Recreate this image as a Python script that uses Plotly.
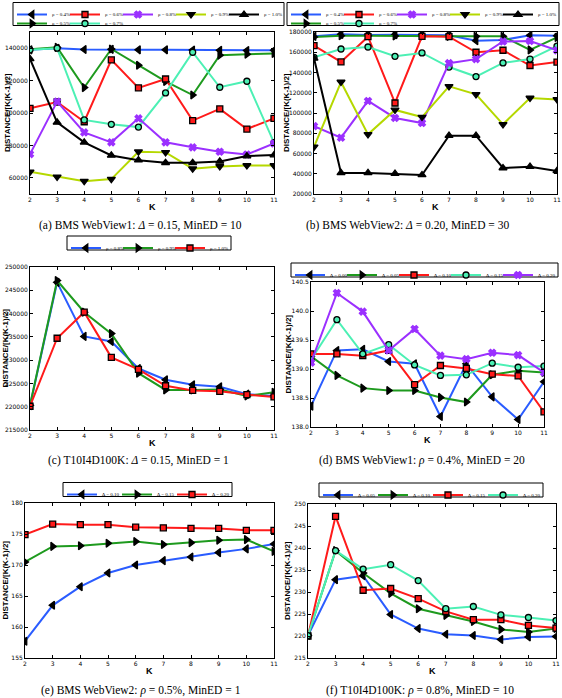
import plotly.graph_objects as go

W, H = 562, 698
K = [2, 3, 4, 5, 6, 7, 8, 9, 10, 11]

# ---------------- data ----------------
# (a) BMS WebView1, Delta=0.15, MinED=10
a_names = ["ρ = 0.4%", "ρ = 0.5%", "ρ = 0.6%", "ρ = 0.7%", "ρ = 0.8%", "ρ = 0.9%", "ρ = 1.0%"]
a_rho04 = [139000, 140000, 139200, 139300, 139000, 139000, 138900, 138700, 138600, 138700]
a_rho05 = [139300, 140500, 115700, 139500, 129500, 119500, 111100, 135700, 136300, 136700]
a_rho06 = [102900, 106800, 94600, 132800, 115500, 121000, 95300, 102500, 90100, 96700]
a_rho07 = [139000, 140000, 95700, 93000, 91300, 112400, 137500, 115900, 119600, 81700]
a_rho08 = [74600, 107000, 88000, 81900, 96700, 81900, 78800, 76100, 74400, 81200]
a_rho09 = [63700, 60600, 57900, 59200, 76100, 75700, 65600, 67000, 67600, 67600]
a_rho10 = [133400, 94200, 81900, 73800, 70900, 69300, 69300, 70100, 73400, 74000]
a_yticks = [60000, 80000, 100000, 120000, 140000]

# (b) BMS WebView2, Delta=0.20, MinED=30
b_names = a_names
b_rho04 = [175700, 177700, 177000, 177400, 177000, 176700, 171400, 172100, 176700, 176400]
b_rho05 = [175100, 176400, 176400, 176000, 175700, 175700, 175700, 175700, 162300, 174700]
b_rho06 = [166500, 150400, 175400, 109900, 175700, 175400, 160000, 162000, 146900, 150300]
b_rho07 = [155000, 163200, 165200, 156000, 159300, 145400, 136000, 149500, 153300, 166000]
b_rho08 = [87000, 75600, 111900, 95100, 90100, 149200, 153200, 170600, 171100, 161900]
b_rho09 = [66600, 130600, 78900, 103000, 96000, 126300, 118400, 88800, 114800, 113400]
b_rho10 = [154000, 40800, 40800, 40100, 38800, 77600, 77600, 45700, 47000, 42800]
b_yticks = [20000, 40000, 60000, 80000, 100000, 120000, 140000, 160000, 180000]

# (c) T10I4D100K, Delta=0.15, MinED=1
c_names = ["ρ = 0.8%", "ρ = 0.9%", "ρ = 1.0%"]
c_rho08 = [220200, 246700, 235100, 234000, 228200, 225800, 224700, 224300, 222700, 222300]
c_rho09 = [220300, 247100, 240300, 235700, 227200, 223600, 223600, 223700, 222300, 223100]
c_rho10 = [220100, 234700, 240300, 230600, 228000, 224500, 223500, 223300, 222600, 222100]
c_yticks = [215000, 220000, 225000, 230000, 235000, 240000, 245000, 250000]

# (d) BMS WebView1, rho=0.4%, MinED=20
d_names = ["Δ = 0.00", "Δ = 0.05", "Δ = 0.10", "Δ = 0.15", "Δ = 0.20"]
d_d000 = [138.36, 139.32, 139.34, 139.13, 139.09, 138.18, 139.09, 138.52, 138.13, 138.78]
d_d005 = [139.22, 138.89, 138.67, 138.63, 138.63, 138.51, 138.43, 138.90, 138.97, 138.94]
d_d010 = [139.26, 139.26, 139.23, 139.32, 138.73, 139.06, 139.01, 138.91, 138.88, 138.26]
d_d015 = [139.16, 139.85, 139.26, 139.42, 139.07, 138.89, 138.90, 139.10, 139.03, 139.05]
d_d020 = [139.11, 140.31, 139.99, 139.32, 139.69, 139.23, 139.17, 139.28, 139.24, 138.94]
d_yticks = [138.0, 138.5, 139.0, 139.5, 140.0, 140.5]

# (e) BMS WebView2, rho=0.5%, MinED=1
e_names = ["Δ = 0.10", "Δ = 0.15", "Δ = 0.20"]
e_d010 = [157.7, 163.5, 166.5, 168.7, 170.0, 170.7, 171.3, 172.0, 172.6, 173.4]
e_d015 = [170.5, 173.0, 173.1, 173.5, 173.8, 173.3, 173.6, 174.0, 174.1, 172.2]
e_d020 = [174.9, 176.6, 176.5, 176.5, 176.1, 176.0, 175.9, 175.9, 175.6, 175.6]
e_yticks = [155, 160, 165, 170, 175, 180]

# (f) T10I4D100K, rho=0.8%, MinED=10
f_names = ["Δ = 0.05", "Δ = 0.10", "Δ = 0.15", "Δ = 0.20"]
f_d005 = [220.1, 232.8, 233.7, 224.9, 221.7, 220.4, 220.1, 219.2, 219.8, 219.9]
f_d010 = [220.1, 239.4, 234.3, 229.7, 226.2, 224.7, 223.3, 221.5, 220.9, 221.7]
f_d015 = [220.0, 247.2, 230.4, 230.8, 228.5, 225.6, 223.7, 223.7, 222.4, 221.8]
f_d020 = [220.1, 239.4, 235.2, 236.2, 232.6, 226.2, 226.7, 224.8, 224.2, 223.5]
f_yticks = [215, 220, 225, 230, 235, 240, 245, 250]

captions = [
    "(a) BMS WebView1: <i>Δ</i> = 0.15, MinED = 10",
    "(b) BMS WebView2: <i>Δ</i> = 0.20, MinED = 30",
    "(c) T10I4D100K: <i>Δ</i> = 0.15, MinED = 1",
    "(d) BMS WebView1: <i>ρ</i> = 0.4%, MinED = 20",
    "(e) BMS WebView2: <i>ρ</i> = 0.5%, MinED = 1",
    "(f) T10I4D100K: <i>ρ</i> = 0.8%, MinED = 10",
]

# ---------------- styles ----------------
STYLES = [
    dict(color="#2a5cff", symbol="triangle-left", mcolor="black", mline="black", size=7),
    dict(color="#1e9a1e", symbol="triangle-right", mcolor="black", mline="black", size=7),
    dict(color="#ff1a1a", symbol="square", mcolor="#ff1a1a", mline="black", size=6),
    dict(color="#4cf0b4", symbol="circle", mcolor="#4cf0b4", mline="black", size=6),
    dict(color="#9b30ff", symbol="x", mcolor="#9b30ff", mline="#9b30ff", size=6),
    dict(color="#b5d800", symbol="triangle-down", mcolor="black", mline="black", size=7),
    dict(color="#000000", symbol="triangle-up", mcolor="black", mline="black", size=7),
]

# panel layout in pixels: (x0, x1, y_top, y_bottom)
boxes = [
    (30, 274, 32, 194),
    (314, 557, 32, 194),
    (30, 274, 267, 430),
    (311, 544, 282, 427),
    (25, 274, 503, 658),
    (308, 556, 504, 658),
]
ytitle_x = [7, 286, 5, 288, 5, 287]
yranges = [(50000, 150000), (20000, 180000), (215000, 250000), (138.0, 140.5), (155, 180), (215, 250)]
ytickvals = [a_yticks, b_yticks, c_yticks, d_yticks, e_yticks, f_yticks]
yfmt = ["d", "d", "d", ".1f", "d", "d"]

panels = [
    (a_names, [a_rho04, a_rho05, a_rho06, a_rho07, a_rho08, a_rho09, a_rho10]),
    (b_names, [b_rho04, b_rho05, b_rho06, b_rho07, b_rho08, b_rho09, b_rho10]),
    (c_names, [c_rho08, c_rho09, c_rho10]),
    (d_names, [d_d000, d_d005, d_d010, d_d015, d_d020]),
    (e_names, [e_d010, e_d015, e_d020]),
    (f_names, [f_d005, f_d010, f_d015, f_d020]),
]

# legend layout: per panel, rows of (trace indices, left px, column pitch px, row centre px)
ROW_SHIFT = 5  # plotly places a legend item ~5px above the box centre
legend_rows = [
    [([0, 2, 4, 5, 6], 12, 53, 9.5), ([1, 3], 12, 53, 18.5)],
    [([0, 2, 4, 5, 6], 286, 53, 9.5), ([1, 3], 286, 53, 18.5)],
    [([0, 1, 2], 66, 52, 243)],
    [([0, 1, 2, 3, 4], 290, 52, 270)],
    [([0, 1, 2], 62, 55, 489.5)],
    [([0, 1, 2, 3], 318, 55, 490)],
]
# legend frames in px (x0, y0, x1, y1)
frames = [
    (13, 2.5, 284, 25.5),
    (287, 2.5, 559, 25.5),
    (67, 236, 231, 250),
    (291, 263, 558, 277),
    (63, 482.5, 232, 496.5),
    (319, 483, 543, 497),
]

# assign every trace its own legend (one entry each) so entries can be placed in a grid
legend_id = {}
legend_defs = {}
n_leg = 0
for p, rows in enumerate(legend_rows):
    for idxs, lx0, pitch, cy in rows:
        for k, ti in enumerate(idxs):
            n_leg += 1
            lid = "legend" if n_leg == 1 else f"legend{n_leg}"
            legend_id[(p, ti)] = lid
            legend_defs[lid] = (lx0 + k * pitch, cy + ROW_SHIFT)

fig = go.Figure()
for p, (names, series) in enumerate(panels):
    xa = "x" if p == 0 else f"x{p+1}"
    ya = "y" if p == 0 else f"y{p+1}"
    for i, (nm, vals) in enumerate(zip(names, series)):
        s = STYLES[i]
        fig.add_trace(go.Scatter(
            x=K, y=vals, name=nm, mode="lines+markers",
            xaxis=xa, yaxis=ya, legend=legend_id[(p, i)],
            line=dict(color=s["color"], width=2),
            marker=dict(symbol=s["symbol"], size=s["size"], color=s["mcolor"],
                        line=dict(color=s["mline"], width=1.3)),
        ))

layout = dict(
    width=W, height=H, margin=dict(l=0, r=0, t=0, b=0, autoexpand=False),
    paper_bgcolor="white", plot_bgcolor="white", showlegend=True,
    font=dict(family="DejaVu Sans", color="black"),
)
for lid, (lx, ly) in legend_defs.items():
    layout[lid] = dict(x=lx / W, y=1 - ly / H, xanchor="left", yanchor="middle",
                       orientation="h", borderwidth=0, bgcolor="rgba(0,0,0,0)",
                       font=dict(size=5, family="Liberation Serif", color="black"),
                       itemwidth=30, tracegroupgap=0)

annotations = []
shapes = []
for p, (x0, x1, yt, yb) in enumerate(boxes):
    xk = "xaxis" if p == 0 else f"xaxis{p+1}"
    yk = "yaxis" if p == 0 else f"yaxis{p+1}"
    xa = "x" if p == 0 else f"x{p+1}"
    ya = "y" if p == 0 else f"y{p+1}"
    common = dict(showline=True, linecolor="black", linewidth=1, mirror="ticks",
                  ticks="inside", ticklen=3, tickcolor="black", showgrid=False,
                  zeroline=False, automargin=False,
                  tickfont=dict(size=6, family="DejaVu Sans", color="black"))
    layout[xk] = dict(domain=[x0 / W, x1 / W], anchor=ya, range=[2, 11],
                      tickvals=K, **common)
    layout[yk] = dict(domain=[1 - yb / H, 1 - yt / H], anchor=xa, range=list(yranges[p]),
                      tickvals=ytickvals[p], tickformat=yfmt[p], **common)
    annotations.append(dict(text="<b>DISTANCE/[K(K-1)/2]</b>", xref="paper", yref="paper",
                            x=ytitle_x[p] / W, y=1 - (yt + yb) / 2 / H, textangle=-90,
                            showarrow=False, font=dict(size=8, family="Liberation Sans"),
                            xanchor="center", yanchor="middle"))
    annotations.append(dict(text="<b>K</b>", xref="paper", yref="paper",
                            x=(x0 + x1) / 2 / W, y=1 - (yb + 13) / H, showarrow=False,
                            font=dict(size=9, family="Liberation Sans"),
                            xanchor="center", yanchor="middle"))
    fx0, fy0, fx1, fy1 = frames[p]
    shapes.append(dict(type="rect", xref="paper", yref="paper", layer="above",
                       x0=fx0 / W, x1=fx1 / W, y0=1 - fy1 / H, y1=1 - fy0 / H,
                       line=dict(color="black", width=1), fillcolor="white"))

cap_pos = [(140, 225), (407, 225), (138, 460), (422, 460), (141, 690), (420, 690)]
for p, (cx, cy) in enumerate(cap_pos):
    annotations.append(dict(text=captions[p], xref="paper", yref="paper",
                            x=cx / W, y=1 - cy / H, showarrow=False,
                            font=dict(size=11.5, family="Liberation Serif"),
                            xanchor="center", yanchor="middle"))
layout["annotations"] = annotations
layout["shapes"] = shapes
fig.update_layout(**layout)
fig.write_html("out.html", config={"displayModeBar": False},
               post_script="document.body.style.margin='0px';document.body.style.overflow='hidden';")
